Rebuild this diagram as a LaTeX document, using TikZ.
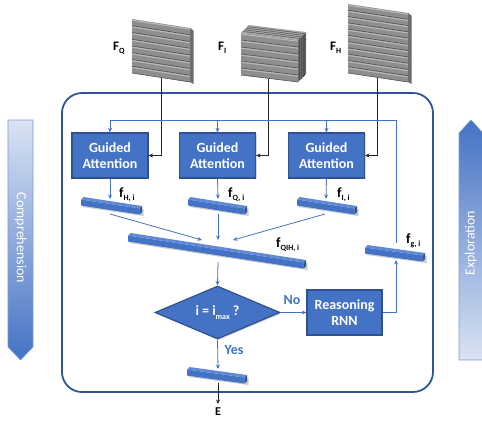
\documentclass[tikz,border=0pt]{standalone}
\usepackage{fontspec}
\setmainfont{Carlito}
\usetikzlibrary{arrows.meta,shapes.geometric,shadows}

\definecolor{boxblue}{HTML}{4472C4}
\definecolor{edgeblue}{HTML}{2F528F}
\definecolor{frameblue}{HTML}{2F5597}
\definecolor{paleblue}{HTML}{DAE3F3}
\definecolor{bartop}{HTML}{5F8AD6}
\definecolor{barend}{HTML}{2F5597}
\definecolor{slabmid}{HTML}{8E8E8E}
\definecolor{slabhi}{HTML}{B8B8B8}
\definecolor{slabdk}{HTML}{505050}
\definecolor{slabside}{HTML}{6C6C6C}
\definecolor{slabtop}{HTML}{A8A8A8}

% a wall of stacked slabs: x-left, y top-left, x-right, y top-right, height, slab count
\newcommand{\slabwall}[6]{%
  \fill[slabmid] (#1,#2) -- (#3,#4) -- (#3,#4+#5) -- (#1,#2+#5) -- cycle;
  \foreach \k in {1,...,#6}{%
    \pgfmathsetmacro{\ya}{(\k-1)*#5/#6}%
    \pgfmathsetmacro{\yb}{\k*#5/#6}%
    \draw[slabhi, line width=1.1pt] (#1,#2+\ya+1.2) -- (#3,#4+\ya+1.2);
    \draw[slabdk, line width=0.6pt] (#1,#2+\yb) -- (#3,#4+\yb);
  }%
}

% a slanted feature bar: name, top-left x,y, top-right x,y
\newcommand{\featbar}[5]{%
  \fill[black, opacity=0.2] (#2+1.5,#3+3) -- (#4+1.5,#5+3) -- (#4+1.5,#5+10) -- (#2+1.5,#3+10) -- cycle;
  \fill[boxblue] (#2,#3+2.5) -- (#4-2.5,#5+2.5) -- (#4-2.5,#5+8.5) -- (#2,#3+8.5) -- cycle;
  \fill[bartop] (#2,#3+2.5) -- (#2+2.5,#3) -- (#4,#5) -- (#4-2.5,#5+2.5) -- cycle;
  \fill[barend] (#4-2.5,#5+2.5) -- (#4,#5) -- (#4,#5+6) -- (#4-2.5,#5+8.5) -- cycle;
  \coordinate (#1) at ({(#2+#4)/2},{(#3+#5)/2+4});
}

\newcommand{\sublab}[2]{#1\raisebox{-0.5ex}{\fontsize{8}{8}\selectfont #2}}

\begin{document}
\begin{tikzpicture}[x=1pt, y=-1pt,
  gabox/.style={rectangle, fill=boxblue, draw=edgeblue, line width=1.2pt, text=white,
    font=\fontsize{14}{16.5}\selectfont\bfseries, align=center, inner sep=0pt,
    minimum width=76pt, minimum height=45pt,
    drop shadow={shadow xshift=1.2pt, shadow yshift=-1.2pt, opacity=0.3}},
  decide/.style={diamond, fill=boxblue, draw=edgeblue, line width=1.2pt, text=white,
    font=\fontsize{14}{16}\selectfont\bfseries, inner sep=0pt, shape aspect=2.4,
    minimum width=125pt, minimum height=53pt,
    drop shadow={shadow xshift=1.2pt, shadow yshift=-1.2pt, opacity=0.3}},
  flow/.style={draw=boxblue, line width=0.8pt, -{Stealth[length=4.5pt,width=4pt]}},
  featline/.style={draw=black!85, line width=1pt, -{Stealth[length=4.5pt,width=4pt]}},
  lab/.style={font=\fontsize{14}{14}\selectfont\bfseries, inner sep=0pt, anchor=base west},
  biglab/.style={lab, font=\fontsize{13}{13}\selectfont\bfseries},
  bluelab/.style={font=\fontsize{14}{14}\selectfont\bfseries, text=boxblue, inner sep=0pt},
  sidetext/.style={font=\fontsize{14}{14}\selectfont, text=white, inner sep=0pt}
]
\useasboundingbox (0,0) rectangle (482,424);

% side arrows
\shade[top color=paleblue, bottom color=boxblue, draw=boxblue!70, line width=0.6pt]
  (8,120) -- (33,120) -- (33,347) -- (20.5,360) -- (8,347) -- cycle;
\node[sidetext, rotate=-90] (comp) at (20.5,238) {Comprehension};
\shade[top color=boxblue, bottom color=paleblue, draw=boxblue!70, line width=0.6pt]
  (459,133) -- (471,120) -- (483,133) -- (483,360) -- (459,360) -- cycle;
\node[sidetext, rotate=90] (expl) at (471,243) {Exploration};

% enclosing frame
\node[draw=frameblue, line width=1.8pt, rounded corners=20pt, minimum width=371pt,
  minimum height=299pt, inner sep=0pt] (frame) at (247.5,242.5) {};

% attention blocks and the reasoning step
\node[gabox] (ga1) at (110,155.5) {Guided\\Attention};
\node[gabox] (ga2) at (217.5,155.5) {Guided\\Attention};
\node[gabox] (ga3) at (326.5,155.5) {Guided\\Attention};
\node[decide] (dec) at (217.5,312.5) {i = \sublab{i}{max} ?};
\node[gabox, minimum width=75pt] (rnn) at (344.5,312.5) {Reasoning\\RNN};

% feature bars
\featbar{bh}{81}{197}{142}{206}
\featbar{bq}{188}{197}{247}{206}
\featbar{bi}{297}{197}{357}{206}
\featbar{bqih}{128}{233}{306}{260}
\featbar{bg}{365}{245}{425}{253}
\featbar{bout}{187}{367}{247}{375}

% input feature stacks
\coordinate (qfoot) at (161,78);
\coordinate (ifoot) at (268,79);
\coordinate (hfoot) at (377,78);
\draw[featline] (qfoot) |- (ga1.east);
\draw[featline] (ifoot) |- (ga2.east);
\draw[featline] (hfoot) |- (ga3.east);

% F_Q: a single wall
\fill[slabside] (190,28) -- (193.5,30.5) -- (193.5,84) -- (190,82) -- cycle;
\slabwall{132}{19}{190}{28}{54}{8}
% F_H: a taller wall
\fill[slabside] (408,13) -- (411.5,15.5) -- (411.5,84) -- (408,82) -- cycle;
\slabwall{348}{4}{408}{13}{69}{11}
% F_I: several walls stacked in depth
\fill[slabtop] (241,33) -- (249,25) -- (306,32) -- (298,40) -- cycle;
\foreach \d in {1.6,3.2,4.8,6.4}{
  \draw[slabdk, line width=0.5pt] (241+\d,33-\d) -- (298+\d,40-\d);
}
\fill[slabside] (298,40) -- (306,32) -- (306,74) -- (298,82) -- cycle;
\foreach \d in {1.6,3.2,4.8,6.4}{
  \draw[slabdk, line width=0.5pt] (298+\d,40-\d) -- (298+\d,82-\d);
}
\foreach \k in {1,...,5}{
  \draw[slabdk, line width=0.5pt] (298,40+\k*7) -- (306,32+\k*7);
}
\slabwall{241}{33}{298}{40}{42}{6}

\node[biglab] (lq) at (113,50) {\sublab{F}{Q}};
\node[biglab] (li) at (218,50) {\sublab{F}{I}};
\node[biglab] (lh) at (330,50) {\sublab{F}{H}};

% feedback loop into the attention blocks
\coordinate (loop) at (110,120);
\coordinate (gtop) at (396,243);
\coordinate (gbot) at (396,260);
\draw[flow] (gtop) -- (gtop |- loop) -- (loop) -- (ga1.north);
\draw[flow] (ga2.north |- loop) -- (ga2.north);
\draw[flow] (ga3.north |- loop) -- (ga3.north);

% attention outputs
\coordinate (hin) at (110,199);
\coordinate (qin) at (218,199);
\coordinate (iin) at (326,199);
\draw[flow] (ga1.south) -- (hin);
\draw[flow] (ga2.south) -- (qin);
\draw[flow] (ga3.south) -- (iin);

% merging into the joint feature
\coordinate (hout) at (110,214);
\coordinate (qout) at (218,214);
\coordinate (iout) at (325,214);
\coordinate (jl) at (202,240);
\coordinate (jm) at (218,240);
\coordinate (jr) at (233,240);
\draw[flow] (hout) -- (jl);
\draw[flow] (qout) -- (jm);
\draw[flow] (iout) -- (jr);

% decision loop
\coordinate (jout) at (218,262);
\draw[flow] (jout) -- (dec.north);
\draw[flow] (dec.east) -- (rnn.west);
\draw[flow] (rnn.east) -| (gbot);
\coordinate (oin) at (218,369);
\draw[flow] (dec.south) -- (oin);
\coordinate (oout) at (218,383);
\coordinate (eend) at (218,404);
\draw[featline] (oout) -- (eend);

% labels
\node[lab] (fh) at (119,197) {\sublab{f}{H, i}};
\node[lab] (fq) at (228,197) {\sublab{f}{Q, i}};
\node[lab] (fi) at (337,197) {\sublab{f}{I, i}};
\node[lab] (fqih) at (276,247) {\sublab{f}{QIH, i}};
\node[lab] (fg) at (406,243) {\sublab{f}{g, i}};
\node[bluelab] (no) at (292,300) {No};
\node[bluelab] (yes) at (234,350) {Yes};
\node[font=\fontsize{12}{12}\selectfont\bfseries, inner sep=0pt] (e) at (218,412) {E};
\end{tikzpicture}
\end{document}
